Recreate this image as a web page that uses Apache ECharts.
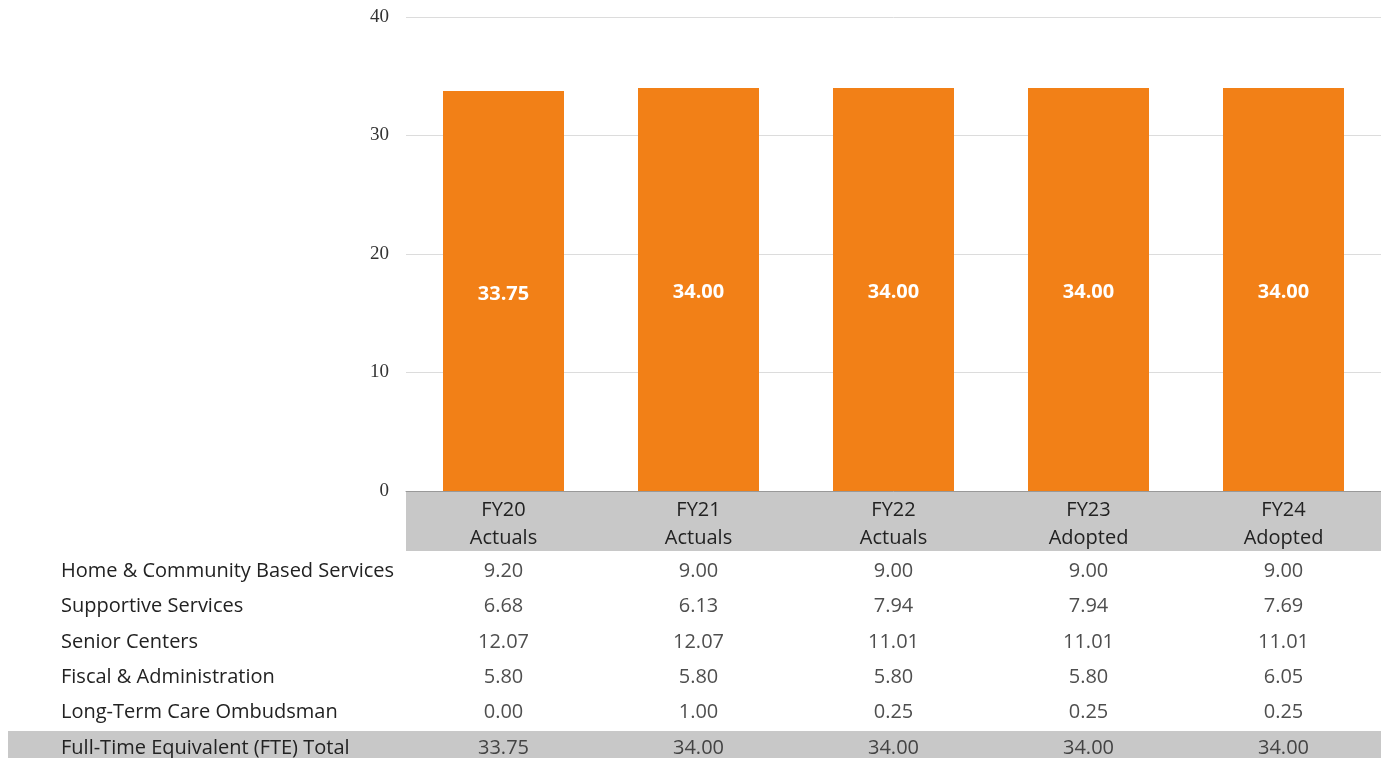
<!DOCTYPE html>
<html>
<head>
<meta charset="utf-8">
<script src="https://cdn.jsdelivr.net/npm/echarts@6/dist/echarts.min.js"></script>
<style>
  html, body { margin: 0; padding: 0; background: #fff; }
  #chart { width: 1381px; height: 758px; }
</style>
</head>
<body>
<div id="chart"></div>
<script>
const categories = ['FY20\nActuals', 'FY21\nActuals', 'FY22\nActuals', 'FY23\nAdopted', 'FY24\nAdopted'];
const totals = [33.75, 34.00, 34.00, 34.00, 34.00];

const rowNames = [
    'Home & Community Based Services',
    'Supportive Services',
    'Senior Centers',
    'Fiscal & Administration',
    'Long-Term Care Ombudsman',
    'Full-Time Equivalent (FTE) Total'
];
const homeCommunity = [9.20, 9.00, 9.00, 9.00, 9.00];
const supportive = [6.68, 6.13, 7.94, 7.94, 7.69];
const seniorCenters = [12.07, 12.07, 11.01, 11.01, 11.01];
const fiscalAdmin = [5.80, 5.80, 5.80, 5.80, 6.05];
const ombudsman = [0.00, 1.00, 0.25, 0.25, 0.25];
const tableRows = [homeCommunity, supportive, seniorCenters, fiscalAdmin, ombudsman, totals];

// flatten the table into [column, row, value] cells
const cells = [];
tableRows.forEach((row, r) => {
    row.forEach((v, c) => cells.push([c, r, v]));
});

const font = '"Open Sans", "Noto Sans", sans-serif';
const myChart = echarts.init(document.getElementById('chart'));

const option = {
    animation: false,
    grid: [
        { left: 406, right: 0, top: 17, bottom: 267 },
        // table rows: value axis 0..5, one unit per row
        { left: 406, right: 0, top: 571, height: 177 }
    ],
    xAxis: [{
        type: 'category',
        gridIndex: 0,
        data: categories,
        axisLine: { lineStyle: { color: '#999', width: 1 } },
        axisTick: { show: false },
        axisLabel: {
            fontFamily: font,
            fontSize: 20,
            color: '#222',
            lineHeight: 28,
            margin: 5
        }
    }, {
        type: 'category',
        gridIndex: 1,
        data: categories,
        show: false
    }],
    yAxis: [{
        type: 'value',
        gridIndex: 0,
        min: 0,
        max: 40,
        interval: 10,
        axisLine: { show: false },
        axisTick: { show: false },
        splitLine: { lineStyle: { color: '#dcdcdc' } },
        axisLabel: {
            fontFamily: '"Liberation Serif", "DejaVu Serif", serif',
            fontSize: 19,
            color: '#333',
            margin: 17
        }
    }, {
        type: 'value',
        gridIndex: 1,
        min: 0,
        max: 5,
        interval: 1,
        inverse: true,
        axisLine: { show: false },
        axisTick: { show: false },
        splitLine: { show: false },
        axisLabel: {
            fontFamily: font,
            fontSize: 20,
            color: '#222',
            align: 'left',
            margin: 345,
            formatter: v => rowNames[v]
        }
    }],
    series: [{
        type: 'bar',
        xAxisIndex: 0,
        yAxisIndex: 0,
        data: totals,
        barWidth: 121,
        itemStyle: { color: '#f28017' },
        label: {
            show: true,
            position: 'inside',
            offset: [0, 3],
            fontFamily: font,
            fontSize: 20,
            fontWeight: 'bold',
            color: '#fff',
            formatter: p => p.value.toFixed(2)
        }
    }, {
        type: 'scatter',
        xAxisIndex: 1,
        yAxisIndex: 1,
        data: cells,
        symbolSize: 1,
        itemStyle: { color: 'rgba(0,0,0,0)' },
        label: {
            show: true,
            position: 'inside',
            fontFamily: font,
            fontSize: 20,
            color: '#222',
            formatter: p => p.value[2].toFixed(2)
        }
    }]
};

myChart.setOption(option);

// gray bands behind the category labels and the total row
const yZero = myChart.convertToPixel({ yAxisIndex: 0 }, 0);
const yTotal = myChart.convertToPixel({ yAxisIndex: 1 }, 5);
myChart.setOption({
    graphic: [{
        type: 'rect',
        z: -10,
        shape: { x: 406, y: yZero, width: 975, height: 551 - yZero },
        style: { fill: '#c8c8c8' }
    }, {
        type: 'rect',
        z: -10,
        shape: { x: 8, y: yTotal - 17, width: 1373, height: 40 },
        style: { fill: '#c8c8c8' }
    }]
});

window.addEventListener('resize', () => {
    myChart.resize();
});
</script>
</body>
</html>
